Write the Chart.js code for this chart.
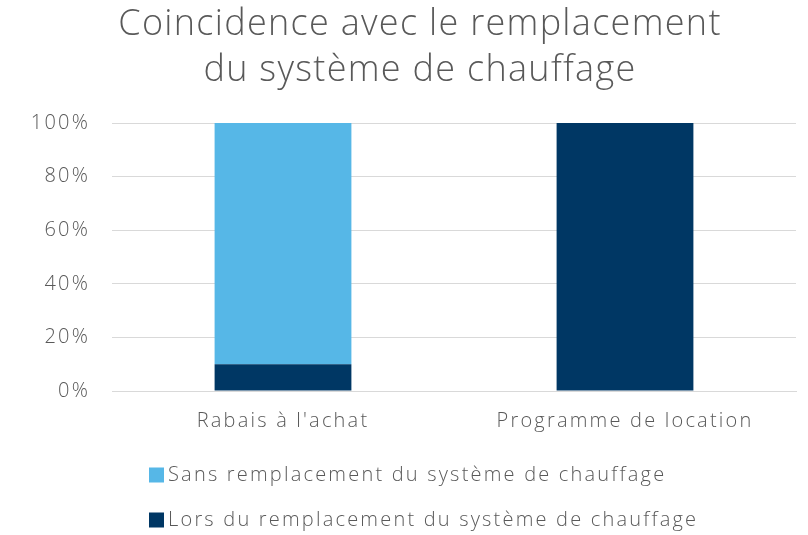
<!DOCTYPE html>
<html>
<head>
<meta charset="utf-8">
<script src="https://cdn.jsdelivr.net/npm/chart.js@4"></script>
<style>
  html, body { margin: 0; padding: 0; background: #fff; }
  #wrap { width: 808px; height: 535px; position: relative; }
</style>
</head>
<body>
<div id="wrap"><canvas id="c" width="808" height="535"></canvas></div>
<script>
const titleLines = ["Coincidence avec le remplacement", "du système de chauffage"];
const categories = ["Rabais à l'achat", "Programme de location"];
const seriesLorsLabel = "Lors du remplacement du système de chauffage";
const seriesSansLabel = "Sans remplacement du système de chauffage";
const lorsValues = [10, 100];
const sansValues = [90, 0];
const yTicks = [0, 20, 40, 60, 80, 100];

const FONT = "'Open Sans', 'Noto Sans', sans-serif";
const TEXT = "#595959";
const LIGHT = "#56B7E7";
const DARK = "#003764";
const SPACING = '2.2px';

const spacingPlugin = {
  id: 'spacing',
  beforeUpdate(chart) { chart.ctx.letterSpacing = SPACING; },
  beforeLayout(chart) { chart.ctx.letterSpacing = SPACING; },
  beforeDraw(chart) { chart.ctx.letterSpacing = SPACING; }
};

const titlePlugin = {
  id: 'customTitle',
  afterDraw(chart) {
    const ctx = chart.ctx;
    ctx.save();
    ctx.letterSpacing = '1.3px';
    ctx.font = "300 36px " + FONT;
    ctx.fillStyle = TEXT;
    ctx.textAlign = 'center';
    ctx.textBaseline = 'middle';
    const cx = 420, ys = [25, 71];
    chart.options.plugins.customTitle.text.forEach((t, i) => ctx.fillText(t, cx, ys[i]));
    ctx.restore();
  }
};

const legendPlugin = {
  id: 'customLegend',
  afterDraw(chart) {
    const ctx = chart.ctx;
    const items = [
      { label: chart.data.datasets[1].label, color: chart.data.datasets[1].backgroundColor },
      { label: chart.data.datasets[0].label, color: chart.data.datasets[0].backgroundColor }
    ];
    const x0 = 149, ys = [475, 520], box = 15;
    ctx.save();
    ctx.letterSpacing = SPACING;
    ctx.font = "300 20px " + FONT;
    ctx.textBaseline = 'middle';
    ctx.textAlign = 'left';
    items.forEach((it, i) => {
      ctx.fillStyle = it.color;
      ctx.fillRect(x0, ys[i] - box / 2, box, box);
      ctx.fillStyle = TEXT;
      ctx.fillText(it.label, x0 + box + 4, ys[i]);
    });
    ctx.restore();
  }
};

new Chart(document.getElementById('c'), {
  type: 'bar',
  data: {
    labels: categories,
    datasets: [
      { label: seriesLorsLabel, data: lorsValues, backgroundColor: DARK, barPercentage: 0.8, categoryPercentage: 0.5 },
      { label: seriesSansLabel, data: sansValues, backgroundColor: LIGHT, barPercentage: 0.8, categoryPercentage: 0.5 }
    ]
  },
  options: {
    responsive: false,
    animation: false,
    layout: { padding: { left: 28, right: 12, top: 123, bottom: 100 } },
    plugins: {
      legend: { display: false },
      tooltip: { enabled: false },
      title: { display: false },
      customTitle: { text: titleLines }
    },
    scales: {
      x: {
        stacked: true,
        afterFit(axis) { axis.height = 44; },
        grid: { display: false, drawTicks: false },
        border: { display: true, color: '#d9d9d9', width: 1 },
        ticks: { color: TEXT, font: { family: FONT, size: 20, weight: '300' }, padding: 18 }
      },
      y: {
        stacked: true,
        min: 0, max: 100,
        afterFit(axis) { axis.width = 84; },
        afterBuildTicks(axis) { axis.ticks = yTicks.map(v => ({ value: v })); },
        grid: { color: '#d9d9d9', drawTicks: false },
        border: { display: false },
        ticks: { color: TEXT, font: { family: FONT, size: 20, weight: '300' }, padding: 22, callback: v => v + '%' }
      }
    }
  },
  plugins: [spacingPlugin, titlePlugin, legendPlugin]
});
</script>
</body>
</html>
